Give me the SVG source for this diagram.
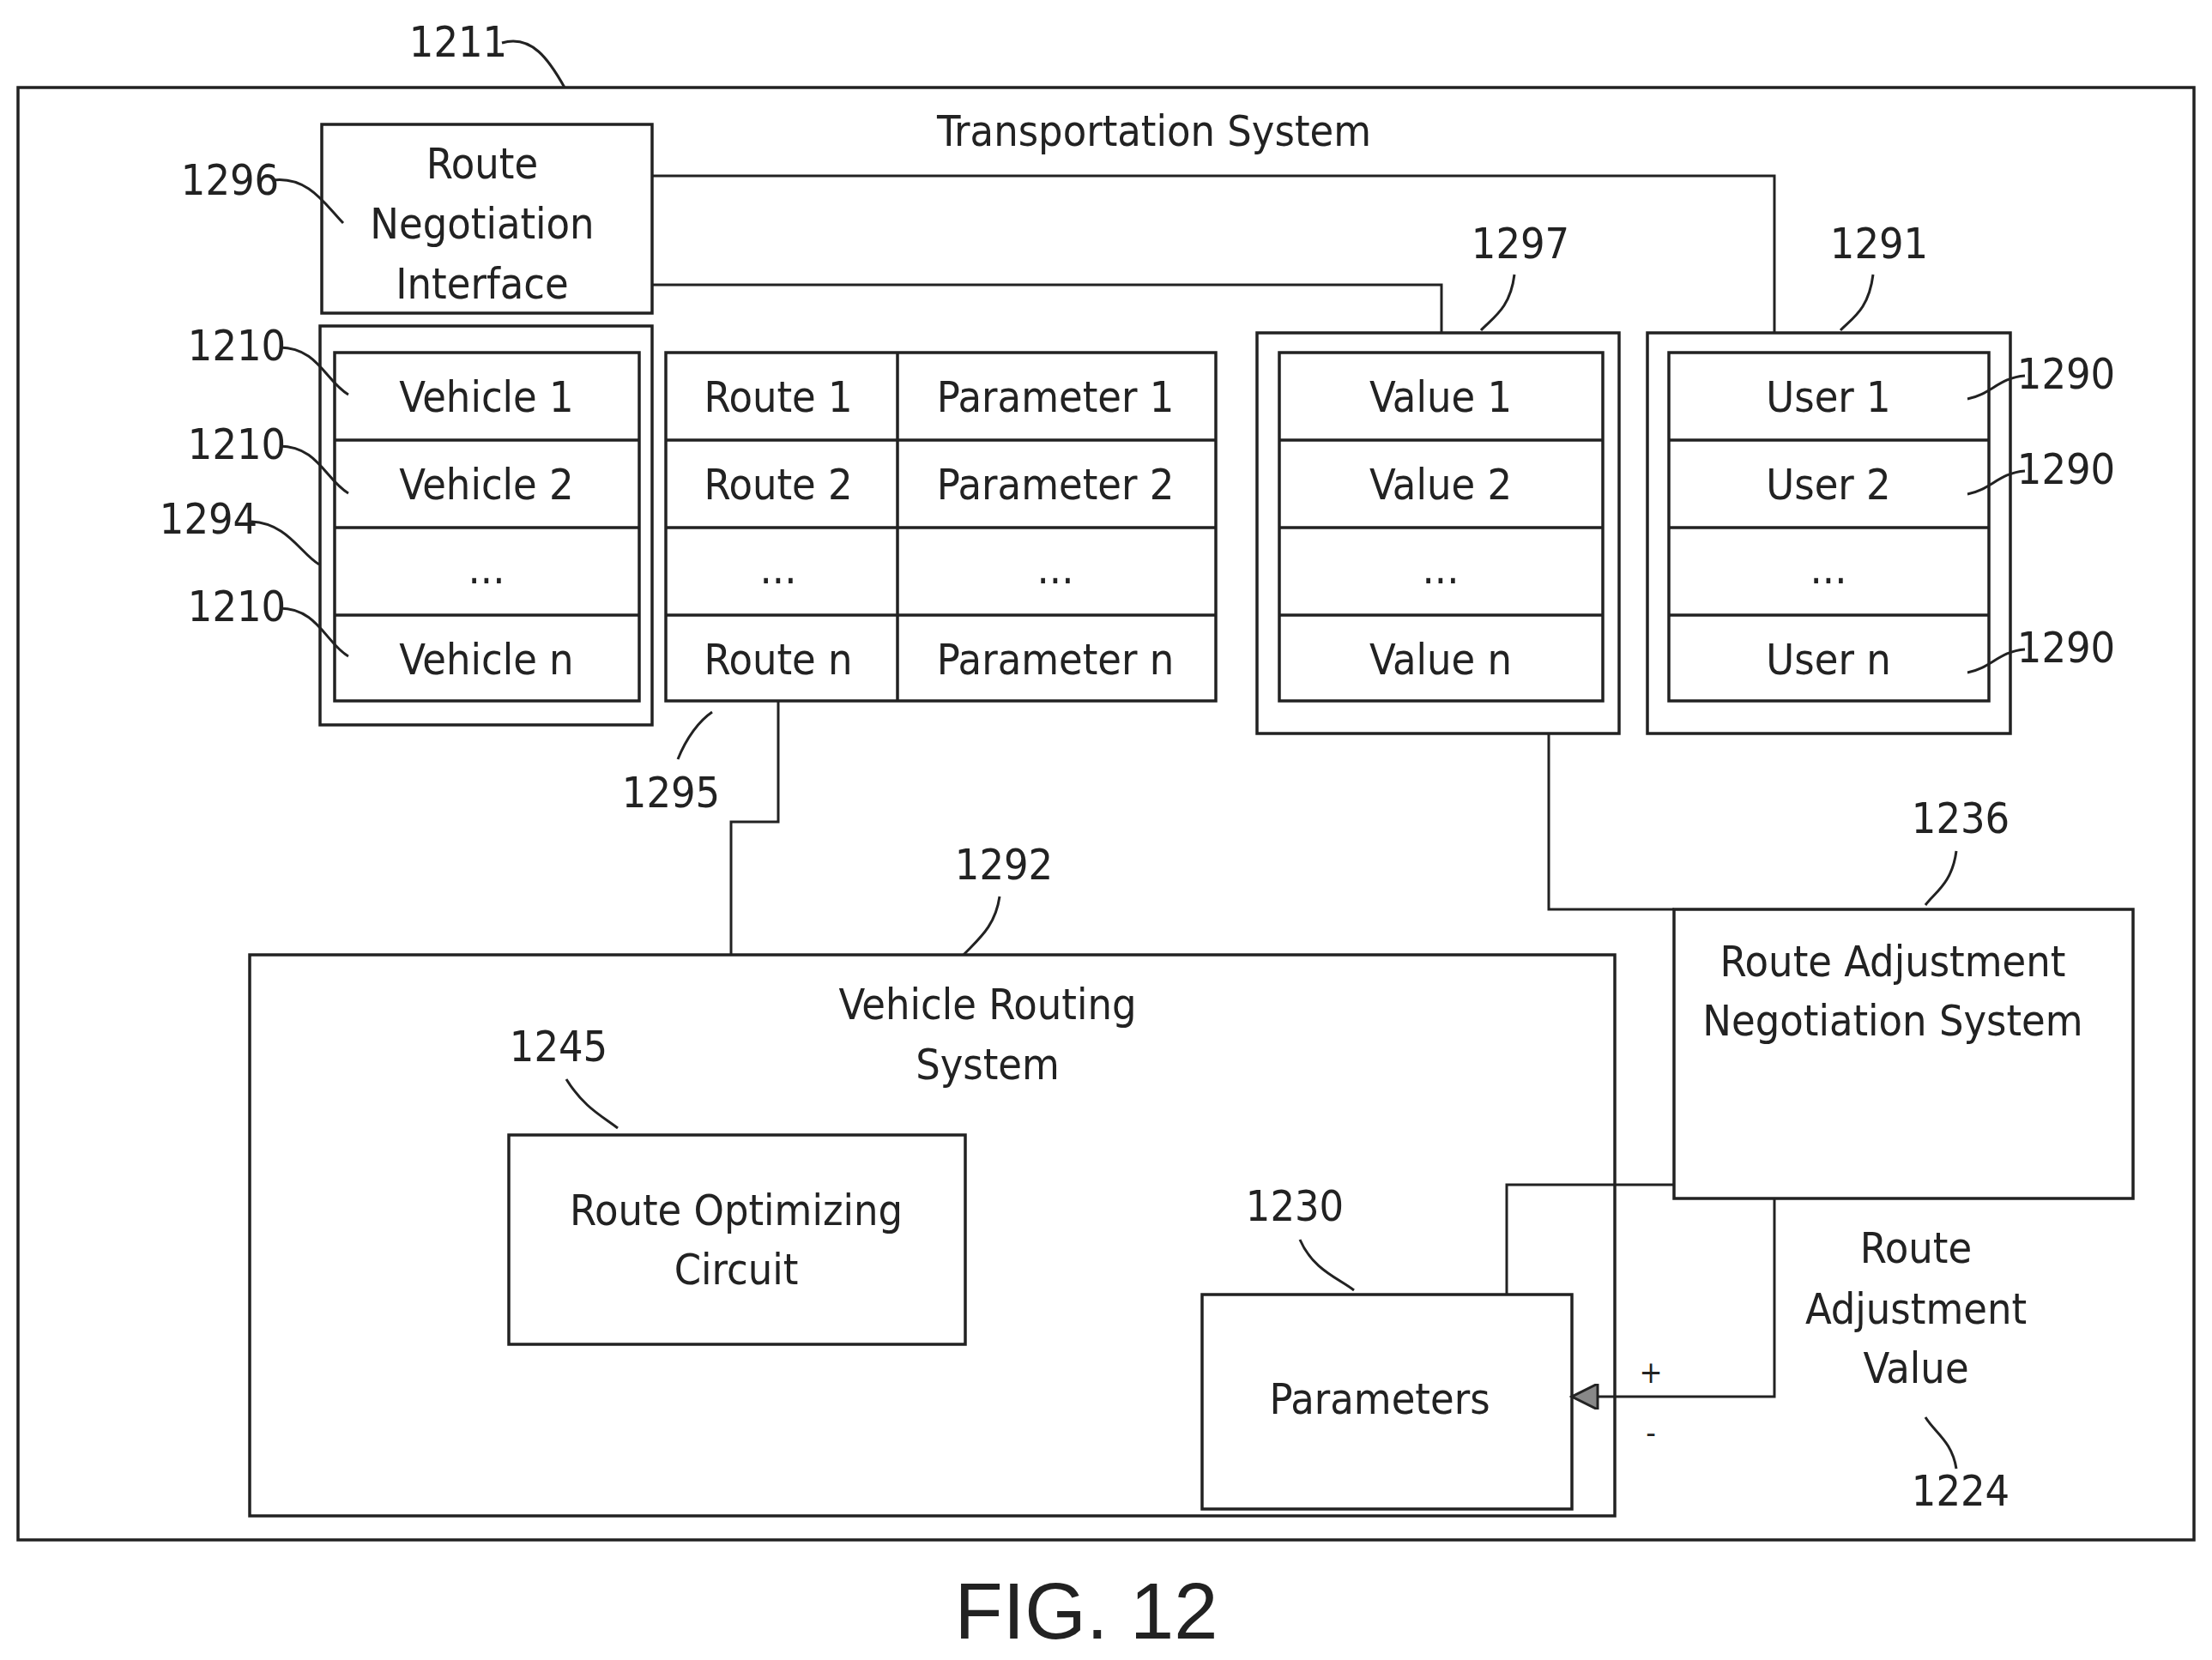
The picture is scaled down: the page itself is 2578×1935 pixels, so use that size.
<svg xmlns="http://www.w3.org/2000/svg" width="2578" height="1935" viewBox="0 0 2578 1935">
<defs>
<style>
.b{fill:none;stroke:#222;stroke-width:3.5}
.t{font-family:"Liberation Sans Narrow","DejaVu Sans Condensed","Liberation Sans",sans-serif;font-size:50px;fill:#222;text-anchor:middle}
.n{font-family:"Liberation Sans Narrow","DejaVu Sans Condensed","Liberation Sans",sans-serif;font-size:50px;fill:#222;text-anchor:middle}
.l{fill:none;stroke:#222;stroke-width:3}
</style>
<marker id="ah" viewBox="0 0 10 10" refX="10" refY="5" markerWidth="12" markerHeight="12" orient="auto" markerUnits="userSpaceOnUse"><path d="M10,0 L0,5 L10,10" fill="none" stroke="#222" stroke-width="1.5" transform="rotate(180 5 5)"/></marker>
<marker id="arr" viewBox="0 0 10 10" refX="10" refY="5" markerWidth="36" markerHeight="30" orient="auto" markerUnits="userSpaceOnUse"><path d="M0,0 L10,5 L0,10 Z" fill="#888" stroke="#222" stroke-width="1"/></marker>
</defs>
<rect width="2578" height="1935" fill="#fff"/>
<g id="frame"><rect class="b" x="21" y="102" width="2536" height="1693"/>
<text class="t" x="1345" y="170">Transportation System</text></g>
<g id="rni"><rect class="b" x="375" y="145" width="385" height="220"/>
<text class="t" x="562" y="208">Route</text><text class="t" x="562" y="278">Negotiation</text><text class="t" x="562" y="348">Interface</text></g>
<g id="vehicles"><rect class="b" x="373" y="380" width="387" height="465"/><rect class="b" x="390" y="411" width="355" height="406"/>
<path class="b" d="M390 513H745M390 615H745M390 717H745"/>
<text class="t" x="567" y="480">Vehicle 1</text><text class="t" x="567" y="582">Vehicle 2</text><text class="t" x="567" y="680">...</text><text class="t" x="567" y="786">Vehicle n</text></g>
<g id="routes"><rect class="b" x="776" y="411" width="641" height="406"/>
<path class="b" d="M776 513H1417M776 615H1417M776 717H1417M1046 411V817"/>
<text class="t" x="907" y="480">Route 1</text><text class="t" x="907" y="582">Route 2</text><text class="t" x="907" y="680">...</text><text class="t" x="907" y="786">Route n</text>
<text class="t" x="1230" y="480">Parameter 1</text><text class="t" x="1230" y="582">Parameter 2</text><text class="t" x="1230" y="680">...</text><text class="t" x="1230" y="786">Parameter n</text></g>
<g id="values"><rect class="b" x="1465" y="388" width="422" height="467"/><rect class="b" x="1491" y="411" width="377" height="406"/>
<path class="b" d="M1491 513H1868M1491 615H1868M1491 717H1868"/>
<text class="t" x="1679" y="480">Value 1</text><text class="t" x="1679" y="582">Value 2</text><text class="t" x="1679" y="680">...</text><text class="t" x="1679" y="786">Value n</text></g>
<g id="users"><rect class="b" x="1920" y="388" width="423" height="467"/><rect class="b" x="1945" y="411" width="373" height="406"/>
<path class="b" d="M1945 513H2318M1945 615H2318M1945 717H2318"/>
<text class="t" x="2131" y="480">User 1</text><text class="t" x="2131" y="582">User 2</text><text class="t" x="2131" y="680">...</text><text class="t" x="2131" y="786">User n</text></g>
<g id="vrs"><rect class="b" x="291" y="1113" width="1591" height="654"/>
<text class="t" x="1151" y="1188">Vehicle Routing</text><text class="t" x="1151" y="1258">System</text></g>
<g id="roc"><rect class="b" x="593" y="1323" width="532" height="244"/>
<text class="t" x="858" y="1428">Route Optimizing</text><text class="t" x="858" y="1497">Circuit</text></g>
<g id="params"><rect class="b" x="1401" y="1509" width="431" height="250"/>
<text class="t" x="1608" y="1648">Parameters</text></g>
<g id="rans"><rect class="b" x="1951" y="1060" width="535" height="337"/>
<text class="t" x="2206" y="1138">Route Adjustment</text><text class="t" x="2206" y="1207">Negotiation System</text></g>
<g id="connectors">
<path class="l" d="M760 205H2068V388"/>
<path class="l" d="M760 332H1680V388"/>
<path class="l" d="M907 817V958H852V1113"/>
<path class="l" d="M1805 855V1060H1951"/>
<path class="l" d="M1756 1509V1381H1951"/>
<path class="l" d="M2068 1397V1628H1832" marker-end="url(#arr)"/>
<text class="t" x="1924" y="1612" style="font-size:36px">+</text><text class="t" x="1924" y="1682" style="font-size:36px">-</text>
<text class="t" x="2233" y="1472">Route</text><text class="t" x="2233" y="1543">Adjustment</text><text class="t" x="2233" y="1612">Value</text>
</g>
<g id="refs">
<text class="n" x="534" y="66">1211</text><path class="l" d="M585 50C620 40 640 70 658 102"/>
<text class="n" x="268" y="227">1296</text><path class="l" d="M318 210C360 205 380 240 400 260"/>
<text class="n" x="276" y="420">1210</text><path class="l" d="M326 405C370 405 380 445 406 460"/>
<text class="n" x="276" y="535">1210</text><path class="l" d="M326 520C370 520 380 560 406 575"/>
<text class="n" x="243" y="622">1294</text><path class="l" d="M293 608C335 610 350 645 372 658"/>
<text class="n" x="276" y="724">1210</text><path class="l" d="M326 709C370 709 380 750 406 765"/>
<text class="n" x="782" y="941">1295</text><path class="l" d="M790 885C800 860 815 840 830 830"/>
<text class="n" x="1772" y="301">1297</text><path class="l" d="M1765 320C1760 360 1740 370 1726 385"/>
<text class="n" x="2190" y="301">1291</text><path class="l" d="M2183 320C2178 360 2160 370 2145 385"/>
<text class="n" x="2408" y="453">1290</text><path class="l" d="M2360 438C2330 440 2320 460 2293 465"/>
<text class="n" x="2408" y="564">1290</text><path class="l" d="M2360 549C2330 551 2320 571 2293 576"/>
<text class="n" x="2408" y="772">1290</text><path class="l" d="M2360 757C2330 759 2320 779 2293 784"/>
<text class="n" x="1170" y="1025">1292</text><path class="l" d="M1165 1045C1160 1080 1140 1095 1123 1113"/>
<text class="n" x="651" y="1237">1245</text><path class="l" d="M660 1258C680 1290 700 1300 720 1315"/>
<text class="n" x="1509" y="1423">1230</text><path class="l" d="M1515 1445C1530 1480 1560 1490 1578 1504"/>
<text class="n" x="2285" y="971">1236</text><path class="l" d="M2280 992C2275 1030 2255 1040 2244 1055"/>
<text class="n" x="2285" y="1755">1224</text><path class="l" d="M2280 1712C2275 1680 2255 1670 2244 1652"/>
</g>
<text x="1266" y="1910" style="font-family:'Liberation Sans',sans-serif;font-size:92px;fill:#222;text-anchor:middle">FIG. 12</text>
</svg>
